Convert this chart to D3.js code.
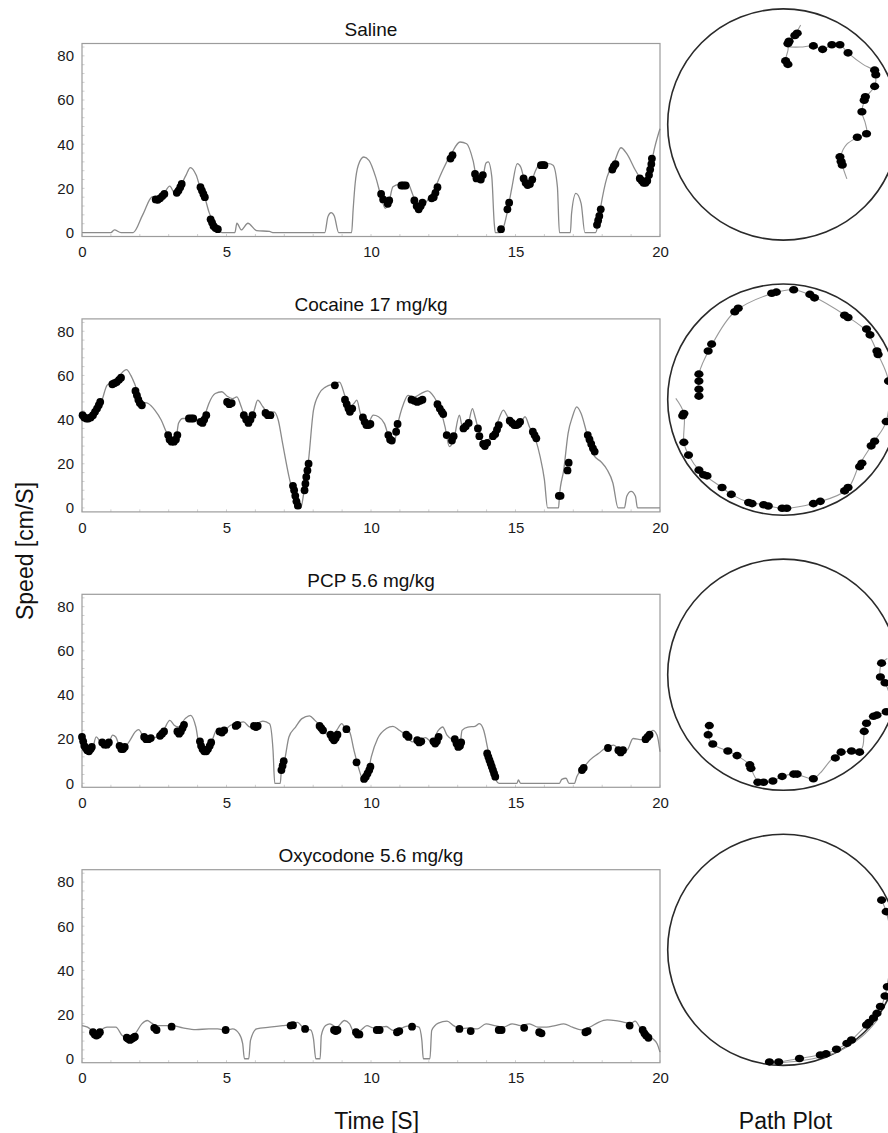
<!DOCTYPE html>
<html><head><meta charset="utf-8">
<script src="https://cdn.jsdelivr.net/npm/d3@7/dist/d3.min.js"></script>
<style>
html,body{margin:0;padding:0;background:#fff;}
svg text{font-family:"Liberation Sans",Arial,Helvetica,sans-serif;}
</style>
</head><body>
<svg id="chart" width="888" height="1133"></svg>
<script>
// ---------- DATA ----------
const titles = ["Saline", "Cocaine 17 mg/kg", "PCP 5.6 mg/kg", "Oxycodone 5.6 mg/kg"];
const xTicks = [0, 5, 10, 15, 20];
const yTicks = [0, 20, 40, 60, 80];

// speed traces [time s, speed cm/s]
const salineSpeed = [[0,0],[1.0,0],[1.12,1.2],[1.35,0],[1.77,0],[2.1,8],[2.44,16.2],[2.6,15.5],[2.8,17],[3.04,21],[3.2,18],[3.3,18.5],[3.45,22],[3.6,26],[3.75,29.4],[3.95,26],[4.1,20],[4.24,16.2],[4.4,9],[4.54,5],[4.69,1.2],[4.84,0],[5.29,0],[5.36,4.2],[5.51,1.2],[5.74,4.2],[6.04,0.9],[6.49,0.5],[6.6,0],[8.4,0],[8.51,7.2],[8.62,9],[8.73,7.5],[8.88,0],[9.33,0],[9.38,10],[9.45,22],[9.56,30.5],[9.75,34.2],[9.93,32.7],[10.16,25.2],[10.35,16.2],[10.49,11],[10.61,13.2],[10.76,20.7],[10.98,21.8],[11.28,22],[11.43,17.7],[11.66,10.2],[11.88,13.2],[12.03,16.2],[12.18,19.2],[12.33,23.7],[12.48,28.2],[12.78,35.7],[13.08,41],[13.31,40.2],[13.53,32.7],[13.68,23.7],[13.83,23],[13.98,31.5],[14.06,32],[14.18,25.2],[14.26,5],[14.3,0],[14.5,0],[14.6,3],[14.73,10.2],[14.88,20.7],[15.06,31.2],[15.18,29.7],[15.33,23],[15.48,21.5],[15.7,28.2],[15.85,31.2],[16.15,31.2],[16.3,30.5],[16.45,20.7],[16.52,0],[16.9,0],[16.94,8.7],[17.09,17.7],[17.27,13.2],[17.4,0],[17.77,0],[17.84,2.7],[17.94,11],[18.17,25.2],[18.4,31.2],[18.65,38.4],[18.85,35.7],[19.15,28.2],[19.37,23.7],[19.52,22.2],[19.67,29.7],[19.82,38.7],[20,47]];
const cocaineSpeed = [[0,42.8],[0.12,40.5],[0.27,41.3],[0.49,44.3],[0.67,48],[0.87,55.6],[1.06,57],[1.21,57.8],[1.36,60.8],[1.54,62.6],[1.69,60],[1.84,55.6],[2.07,48],[2.29,47.3],[2.52,44.3],[2.74,39.8],[2.94,33.8],[3.12,30.8],[3.27,33],[3.34,38.3],[3.49,40.5],[3.72,40.5],[3.94,39.8],[4.12,39],[4.27,42.8],[4.39,47.3],[4.61,51.8],[4.84,52.6],[5.02,50.6],[5.21,49.5],[5.36,50.3],[5.51,45.8],[5.66,40.5],[5.81,39],[5.96,44.3],[6.08,48.8],[6.26,45.8],[6.46,42.8],[6.64,43.5],[6.79,39.8],[6.94,29.3],[7.16,14.3],[7.36,3.8],[7.46,0],[7.57,0],[7.69,8.3],[7.84,21.8],[8.01,44.3],[8.21,51.8],[8.43,54.8],[8.73,56.3],[8.91,57],[9.11,50.3],[9.26,45.8],[9.41,47.3],[9.51,48.8],[9.63,42.8],[9.86,37.5],[10.08,42],[10.26,41.3],[10.46,38.3],[10.68,30.8],[10.83,30.8],[10.91,36.8],[11.13,47.3],[11.28,51],[11.51,50.3],[11.73,51.8],[11.96,53],[12.18,50.3],[12.41,44.3],[12.56,36.8],[12.71,27.8],[12.86,30.8],[13.06,42],[13.16,36.8],[13.36,38.3],[13.51,45],[13.6,41.3],[13.75,33.8],[13.9,29.3],[14.05,30.8],[14.25,33.8],[14.43,40.5],[14.58,44.3],[14.73,41.3],[14.96,39],[15.18,39],[15.33,41.3],[15.48,36.8],[15.7,30.8],[15.85,23.3],[16.0,12.8],[16.11,0],[16.49,0],[16.52,5.3],[16.67,17.3],[16.82,33.8],[16.97,41.3],[17.12,45.8],[17.27,42.8],[17.5,32.3],[17.72,23.7],[17.95,21],[18.17,17.3],[18.37,11.3],[18.55,0],[18.77,0],[18.85,5.3],[19.0,7.5],[19.15,5.3],[19.22,0],[20,0]];
const pcpSpeed = [[0,21.8],[0.12,16.5],[0.27,14.3],[0.37,15.8],[0.49,21],[0.64,18.8],[0.79,17.7],[0.94,18.8],[1.06,21.8],[1.17,21],[1.32,16.5],[1.47,16.5],[1.66,19.5],[1.84,23.3],[1.96,24.3],[2.14,21],[2.37,20.3],[2.59,21],[2.82,24],[3.04,28.5],[3.19,26.3],[3.34,25.5],[3.57,29.3],[3.76,30.8],[3.94,25.5],[4.09,15],[4.24,14.3],[4.46,18],[4.69,24.8],[4.91,24],[5.14,26.3],[5.36,27],[5.59,27.8],[5.81,25.5],[6.04,27],[6.26,28.2],[6.49,27],[6.61,15],[6.67,0],[6.86,0],[6.9,6],[7.01,10.5],[7.16,21],[7.39,25.5],[7.61,29.3],[7.87,30.5],[8.06,28.5],[8.28,25.5],[8.58,21],[8.81,24],[8.99,27],[9.11,24.8],[9.26,23.3],[9.41,15],[9.56,7.5],[9.71,2.3],[9.86,3],[10.01,12],[10.23,20.3],[10.53,24.8],[10.76,25.8],[10.98,24],[11.21,21.8],[11.43,18.8],[11.66,19.5],[11.88,20.7],[12.1,18.8],[12.33,24],[12.48,25.5],[12.63,21.8],[12.86,19.5],[13.08,18],[13.15,24],[13.35,25.5],[13.6,25.8],[13.75,27],[13.9,24],[14.05,15],[14.2,6],[14.32,1.5],[14.43,0],[15.05,0],[15.1,1.5],[15.18,0],[16.52,0],[16.6,1.8],[16.75,2.3],[16.85,0],[17.04,0],[17.12,3],[17.34,6.8],[17.57,10.5],[17.87,13.5],[18.17,16.5],[18.4,17.3],[18.62,15],[18.85,15],[19.07,20.3],[19.37,19.8],[19.6,21.8],[19.75,24],[19.9,21.8],[20,14.3]];
const oxycodoneSpeed = [[0,15],[0.19,14.3],[0.34,12.8],[0.49,11],[0.64,12.8],[0.87,14.3],[1.17,14.3],[1.39,10.5],[1.62,9],[1.84,11.3],[2.07,15.8],[2.26,17.3],[2.41,16.1],[2.59,15],[2.82,15],[3.12,15],[3.49,14],[3.94,13.2],[4.39,13.5],[4.69,13.5],[4.99,12.8],[5.21,13.5],[5.44,11.3],[5.56,6.8],[5.62,0],[5.77,0],[5.83,8.3],[6.04,13.5],[6.49,14.3],[6.94,15],[7.24,15.5],[7.46,16.5],[7.69,13.5],[7.91,13.1],[8.01,9],[8.09,0],[8.24,0],[8.28,10.5],[8.43,15],[8.58,15.8],[8.81,14.3],[9.08,17.3],[9.26,15.8],[9.41,12],[9.63,12.8],[9.86,15],[10.08,14],[10.31,14.3],[10.53,14.6],[10.76,12.8],[10.98,13.5],[11.21,14.6],[11.43,15],[11.66,14.3],[11.76,8.3],[11.81,0],[12.04,0],[12.1,12.8],[12.33,16.1],[12.63,17],[12.86,15],[13.08,13.5],[13.38,14],[13.68,13.5],[13.98,15.8],[14.28,15],[14.58,14.3],[14.88,15.8],[15.18,15],[15.48,15.8],[15.78,14.3],[16.07,14.3],[16.37,15],[16.67,15.8],[16.97,14.3],[17.27,13.1],[17.57,14.3],[17.87,16.5],[18.17,17.6],[18.46,17.3],[18.76,16.5],[18.99,16.1],[19.14,17],[19.3,14.3],[19.52,10.5],[19.75,9],[19.9,6.8],[20,3]];

// marked samples on the speed trace [time s, speed cm/s]
const salineDots = [[2.55,15],[2.62,14.8],[2.7,15.5],[2.78,16.5],[2.85,17.5],[3.28,18],[3.34,19],[3.4,20.5],[3.45,22],[4.1,20.5],[4.15,19],[4.2,17.5],[4.25,16],[4.45,6],[4.5,4.5],[4.55,3],[4.62,2],[4.7,1.5],[10.35,17.5],[10.42,15],[10.58,13],[10.63,14.5],[11.05,21.3],[11.12,21.3],[11.2,21.3],[11.5,14.5],[11.58,12],[11.65,10.5],[11.72,12],[11.78,13.5],[12.1,15.5],[12.17,16],[12.23,18],[12.3,20.5],[12.75,33.5],[12.82,35],[13.6,26.5],[13.65,24.5],[13.8,24],[13.87,26],[14.5,1.5],[14.72,10.5],[14.78,13.5],[15.28,24.5],[15.35,22.5],[15.42,21.5],[15.5,22],[15.58,24],[15.88,30.5],[15.95,30.5],[16.0,30.5],[17.82,3.5],[17.86,5.5],[17.9,7.5],[17.95,10.5],[18.35,28.5],[18.4,30],[18.46,31],[19.3,24.5],[19.37,23.5],[19.43,22.5],[19.5,22.5],[19.56,23.5],[19.62,26],[19.66,28.5],[19.7,31],[19.72,33.5]];
const cocaineDots = [[0.02,42],[0.08,41],[0.15,40.5],[0.22,40.5],[0.3,41],[0.38,42],[0.45,43.5],[0.52,45],[0.58,46.5],[0.63,48],[1.05,56],[1.12,56.5],[1.2,57],[1.28,58],[1.35,59],[1.85,53],[1.9,51],[1.95,49],[2.0,47.5],[2.07,46.5],[2.98,33],[3.03,31],[3.1,30],[3.18,30],[3.25,31],[3.3,33],[3.7,40.5],[3.78,40.5],[3.85,40.5],[4.1,39],[4.17,38.5],[4.23,40],[4.3,42],[5.02,48],[5.1,47],[5.18,47.5],[5.6,42],[5.68,40],[5.76,38.5],[5.83,40],[5.9,42],[6.35,43],[6.43,42],[6.52,42],[7.3,10],[7.34,8],[7.38,5.5],[7.42,3],[7.47,1],[7.7,8],[7.73,11],[7.76,14],[7.8,17],[7.84,20],[8.75,55.5],[9.1,49],[9.16,47],[9.22,45],[9.27,43.5],[9.35,45],[9.72,41],[9.78,39],[9.84,37.5],[9.92,37.5],[9.98,38],[10.6,33],[10.66,31],[10.72,30.5],[10.87,34.5],[10.92,38],[11.4,49],[11.5,48.5],[11.6,48],[11.7,48.5],[11.78,49],[12.3,47],[12.38,45],[12.45,43.5],[12.5,42.5],[12.62,33],[12.8,30.5],[12.86,32.5],[13.2,36],[13.28,37],[13.38,38.5],[13.7,36],[13.75,32.5],[13.88,29],[13.94,28],[14.02,29.5],[14.22,32.5],[14.3,33.5],[14.36,35.5],[14.42,37.5],[14.8,39.5],[14.88,38.5],[14.96,37.5],[15.04,37.5],[15.1,38],[15.16,39],[15.6,34.5],[15.66,33],[15.72,31.5],[16.5,5.5],[16.56,5.5],[16.8,17],[16.84,20.5],[17.5,33],[17.56,31],[17.62,29],[17.68,27],[17.74,25.5]];
const pcpDots = [[0.0,21],[0.04,19],[0.08,17],[0.13,16],[0.18,15],[0.24,14.5],[0.3,15.5],[0.34,16.5],[0.7,18.5],[0.78,17.5],[0.86,17.5],[0.93,18.5],[1.3,17],[1.36,15.5],[1.42,15.5],[1.48,16.5],[2.15,21],[2.22,20],[2.3,20],[2.38,20.5],[2.7,21.5],[2.77,22.5],[2.84,23.5],[3.3,23.5],[3.36,22.5],[3.42,23.5],[3.48,25],[3.53,26.5],[4.08,19],[4.12,17],[4.17,15.5],[4.23,14.5],[4.3,14.5],[4.36,15.5],[4.42,17],[4.47,18.5],[4.76,23.5],[4.84,23],[4.92,24],[5.32,26],[5.38,26.5],[5.95,26],[6.02,25.5],[6.08,26],[6.9,6],[6.94,8],[6.98,10],[8.22,26],[8.28,25],[8.34,24],[8.6,22],[8.66,20.5],[8.72,19.5],[8.78,20.5],[8.84,22],[9.15,24.5],[9.5,9.5],[9.76,2],[9.82,3],[9.88,4.5],[9.94,6],[9.98,7.5],[11.22,22],[11.3,21],[11.6,19.5],[11.67,18.5],[11.74,19],[12.16,19],[12.22,18],[12.28,19],[12.34,21],[12.9,20],[12.96,18],[13.02,16.5],[13.08,17],[13.12,18.5],[14.02,13.5],[14.06,12],[14.1,10.5],[14.14,9],[14.18,7.5],[14.22,6],[14.26,4.5],[14.3,3],[17.3,6],[17.36,7],[18.2,16],[18.56,15],[18.64,14],[18.72,15],[19.5,20],[19.57,21],[19.64,22]];
const oxycodoneDots = [[0.38,12],[0.44,11],[0.5,10.5],[0.56,11],[0.62,12],[1.55,9.5],[1.6,9],[1.66,8.5],[1.72,9],[1.78,9.5],[1.83,10],[2.5,14],[2.58,13],[3.1,14.5],[4.97,13],[7.22,15],[7.3,15.2],[7.72,13.5],[8.72,13],[8.78,12.5],[8.84,13],[9.48,12],[9.54,11],[9.6,11],[10.2,13],[10.3,13],[10.9,12],[10.98,12.5],[11.42,14.5],[13.06,13.5],[13.45,12.5],[14.42,13],[14.52,13],[15.3,14],[15.82,12],[15.9,11.5],[17.42,12],[17.5,12.5],[18.95,15],[19.4,13],[19.46,11.5],[19.52,10.5],[19.6,9.5]];

// path plots: arena coordinates in % of arena radius (x right, y down), list of segments
const salinePath = [
  [[15,-86],[11,-79],[5,-71],[4,-64],[2,-55],[4,-52]],
  [[5,-67],[15,-67],[26,-68],[34,-65],[42,-69],[49,-69],[56,-62],[69,-52],[78,-47],[80,-42],[79,-33],[72,-24],[68,-11],[71,-1],[72,8],[65,11],[55,17],[50,27],[51,35],[55,47]]
];
const cocainePath = [
  [[-93,-1],[-86,12],[-86,37],[-82,48],[-72,62],[-53,76],[-45,82],[-29,89],[-16,91],[0,94],[29,89],[55,78],[66,56],[78,37],[89,19],[91,-16],[82,-39],[72,-59],[55,-72],[24,-90],[9,-95],[-9,-92],[-42,-76],[-63,-45],[-73,-22],[-73,-3]]
];
const pcpPath = [
  [[-64,43],[-65,52],[-61,60],[-48,66],[-40,70],[-29,78],[-28,81],[-22,92],[-17,93],[-9,92],[-1,88],[10,86],[26,90],[32,85],[43,72],[52,67],[59,66],[66,67],[69,61],[70,49],[72,42],[79,35],[89,32],[92,20],[88,7],[84,2],[85,-10],[90,-14]]
];
const oxycodonePath = [
  [[85,-43],[89,-33],[92,-19],[93,10],[90,30],[88,40],[84,50],[79,56],[75,62],[72,65],[59,78],[55,81],[46,86],[37,90],[32,91],[14,94],[-4,97],[-12,97]],
  [[-10,98],[15,96],[45,89],[68,75],[82,60]]
];
const salinePathDots = [[12,-79],[10,-77],[5,-72],[4,-70],[2,-55],[4,-52],[26,-68],[34,-65],[42,-69],[49,-69],[56,-62],[79,-47],[80,-43],[79,-33],[71,-24],[70,-21],[68,-11],[72,8],[64,11],[49,28],[50,32],[51,35]];
const cocainePathDots = [[-86,12],[-87,14],[-86,37],[-82,48],[-73,61],[-69,65],[-66,66],[-53,76],[-45,82],[-30,89],[-27,90],[-17,91],[-13,92],[-1,94],[3,94],[26,90],[32,88],[53,79],[56,76],[66,58],[68,55],[76,40],[79,36],[89,19],[91,-16],[82,-39],[81,-42],[72,-61],[75,-56],[53,-73],[56,-71],[23,-91],[27,-88],[9,-95],[-10,-92],[-6,-93],[-42,-76],[-39,-79],[-65,-42],[-62,-48],[-73,-22],[-73,-16],[-73,-9],[-73,-3]];
const pcpPathDots = [[-64,44],[-65,52],[-61,60],[-48,66],[-40,70],[-29,78],[-28,81],[-22,93],[-17,93],[-9,92],[-1,88],[9,86],[12,86],[26,90],[45,72],[50,67],[59,66],[66,67],[70,49],[72,42],[78,36],[81,35],[89,32],[84,2],[88,7],[85,-10]];
const oxycodonePathDots = [[85,-43],[89,-33],[90,32],[88,40],[84,49],[81,55],[78,59],[74,63],[72,65],[59,78],[55,81],[46,86],[37,90],[32,91],[14,94],[-4,97],[-12,97]];

const speeds = [salineSpeed, cocaineSpeed, pcpSpeed, oxycodoneSpeed];
const speedDots = [salineDots, cocaineDots, pcpDots, oxycodoneDots];
const paths = [salinePath, cocainePath, pcpPath, oxycodonePath];
const pathDots = [salinePathDots, cocainePathDots, pcpPathDots, oxycodonePathDots];

// ---------- LAYOUT ----------
const svg = d3.select("#chart");
const L = 82, R = 660, H = 193;
const panelTop = i => 43.5 + 275.4 * i;
const circ = {cx: 783.3, r: 115.6, cy0: 124.5, step: 275.1};
const FONT = "'Liberation Sans',Arial,Helvetica,sans-serif";

const x = d3.scaleLinear().domain([0, 20]).range([L, R]);

titles.forEach((title, i) => {
  const top = panelTop(i);
  const y = d3.scaleLinear().domain([-1.8, 85.6]).range([top + H, top]);
  const g = svg.append("g");

  // minor ticks (inside)
  const minorY = d3.range(0, 86, 4);
  g.selectAll(".my").data(minorY).join("line")
    .attr("x1", L).attr("x2", L + 2.5)
    .attr("y1", d => y(d)).attr("y2", d => y(d))
    .attr("stroke", "#c4c4c4").attr("stroke-width", 0.8);
  const minorX = d3.range(0, 20.01, 1);
  g.selectAll(".mx").data(minorX).join("line")
    .attr("x1", d => x(d)).attr("x2", d => x(d))
    .attr("y1", top + H).attr("y2", top + H - 2.5)
    .attr("stroke", "#c4c4c4").attr("stroke-width", 0.8);

  // axes
  const ya = g.append("g").attr("transform", `translate(${L},0)`)
    .call(d3.axisLeft(y).tickValues(yTicks).tickSize(0).tickPadding(8));
  const xa = g.append("g").attr("transform", `translate(0,${top + H})`)
    .call(d3.axisBottom(x).tickValues(xTicks).tickSize(0).tickPadding(10).tickFormat(d3.format("d")));
  [ya, xa].forEach(a => {
    a.select(".domain").remove();
    a.selectAll("text").attr("font-family", FONT).attr("font-size", 15).attr("fill", "#1a1a1a");
  });

  // frame
  g.append("rect").attr("x", L).attr("y", top).attr("width", R - L).attr("height", H)
    .attr("fill", "none").attr("stroke", "#9c9c9c").attr("stroke-width", 1.2);

  // trace
  const line = d3.line().x(d => x(d[0])).y(d => y(d[1])).curve(d3.curveMonotoneX);
  g.append("path").datum(speeds[i]).attr("d", line)
    .attr("fill", "none").attr("stroke", "#8a8a8a").attr("stroke-width", 1.3);

  g.selectAll(".dot").data(speedDots[i]).join("circle")
    .attr("cx", d => x(d[0])).attr("cy", d => y(d[1])).attr("r", 3.9).attr("fill", "#000");

  // title
  g.append("text").attr("x", (L + R) / 2).attr("y", top - 7.5)
    .attr("text-anchor", "middle").attr("font-family", FONT).attr("font-size", 19).attr("fill", "#111")
    .text(title);

  // path plot
  const cy = circ.cy0 + circ.step * i;
  const px = d3.scaleLinear().domain([-100, 100]).range([circ.cx - circ.r, circ.cx + circ.r]);
  const py = d3.scaleLinear().domain([-100, 100]).range([cy - circ.r, cy + circ.r]);
  const pg = svg.append("g");
  pg.append("circle").attr("cx", px(0)).attr("cy", py(0)).attr("r", circ.r)
    .attr("fill", "none").attr("stroke", "#2a2a2a").attr("stroke-width", 1.6);
  const pline = d3.line().x(d => px(d[0])).y(d => py(d[1])).curve(d3.curveCatmullRom);
  pg.selectAll(".seg").data(paths[i]).join("path").attr("d", pline)
    .attr("fill", "none").attr("stroke", "#9a9a9a").attr("stroke-width", 1.1);
  pg.selectAll(".pd").data(pathDots[i]).join("ellipse")
    .attr("cx", d => px(d[0])).attr("cy", d => py(d[1])).attr("rx", 4.6).attr("ry", 3.8).attr("fill", "#000");
});

// axis titles
svg.append("text").attr("transform", "translate(33,551) rotate(-90)")
  .attr("text-anchor", "middle").attr("font-family", FONT).attr("font-size", 23).attr("fill", "#111")
  .text("Speed [cm/S]");
svg.append("text").attr("x", 376.7).attr("y", 1129)
  .attr("text-anchor", "middle").attr("font-family", FONT).attr("font-size", 23).attr("fill", "#111")
  .text("Time [S]");
svg.append("text").attr("x", 785.5).attr("y", 1129)
  .attr("text-anchor", "middle").attr("font-family", FONT).attr("font-size", 23).attr("fill", "#111")
  .text("Path Plot");
</script>
</body></html>
